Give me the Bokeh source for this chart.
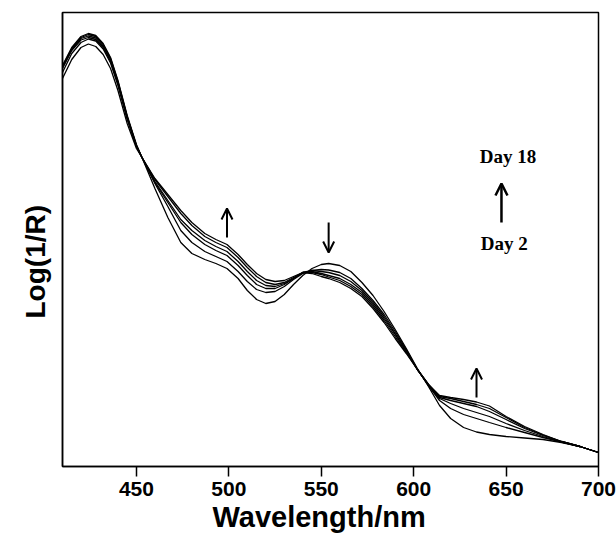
from bokeh.plotting import figure
from bokeh.models import Range1d, FixedTicker, Label, Arrow, OpenHead, Title
from bokeh.embed import file_html
from bokeh.resources import INLINE

wavelength = [410, 415, 420, 424, 428, 432, 436, 440, 445, 450, 453, 460, 467, 474, 480, 487, 493, 499,
              505, 510, 515, 520, 525, 530, 535, 540, 545, 550, 554, 560, 566, 572, 578, 584, 590, 596,
              602, 608, 614, 620, 627, 634, 641, 650, 660, 670, 680, 690, 700]

day_a = [401, 419, 430, 433, 431, 423, 409, 386, 351, 322, 309, 278, 249, 224, 213, 207, 203, 198,
         188, 176, 167, 163, 165, 172, 182, 191, 198, 202, 203, 201, 195, 184, 171, 155, 137, 118,
         98, 80, 61, 48, 39, 34.5, 32, 30, 28.5, 27, 24, 20, 14]
day_b = [400, 418, 429, 432, 430, 422, 408, 385, 350, 321, 309, 283, 260, 236, 224, 215, 210, 205,
         195, 185, 177, 174, 175, 180, 187, 193, 196, 197, 196.5, 194, 188, 178, 166, 152, 135, 117,
         97, 81, 66, 58, 52, 48, 44, 39, 34, 29, 24.5, 20, 14]
day_c = [399, 417, 428, 430.5, 428.5, 420.5, 406.5, 384, 349, 321, 309, 284, 264, 244, 232, 222, 216, 211,
         201, 191, 182, 178, 178, 182, 188, 194, 196, 195, 194, 191, 185, 176, 164, 150, 133, 116,
         97, 81, 68, 63, 58, 54, 50, 43, 36, 30, 24.5, 20, 14]
day_d = [398, 416, 426.5, 429, 427, 419, 405, 383, 349, 320, 309, 285, 266, 247, 236, 226, 220, 215,
         205, 195, 186, 181, 180, 183, 188, 194, 195, 193, 191, 188, 182, 174, 162, 148, 132, 115,
         97, 82, 69, 66, 63, 60, 55, 47, 38, 31, 25, 20, 14]
day_e = [394, 413, 424, 427.5, 425.5, 417.5, 403.5, 381, 347, 320, 309, 287, 270, 253, 241, 230, 224, 219,
         209, 199, 190, 184, 182, 184, 189, 194, 194, 192, 189.5, 186, 180, 172, 160, 146, 130, 114,
         97, 82, 70, 68, 65, 62, 58, 49, 39, 31.5, 25, 20, 14]
day_f = [388, 407, 419, 422.5, 420, 412, 398, 376, 343, 318, 309, 288, 272, 256, 244, 233, 227, 222,
         212, 202, 193, 187, 185, 186, 190, 194, 193, 190, 188, 184, 178, 170, 158, 144, 128, 113,
         97, 82, 71, 69, 67, 64.5, 60.5, 50, 40, 32, 25, 20, 14]
spectra = [day_a, day_b, day_c, day_d, day_e, day_f]

x_ticks = [450, 500, 550, 600, 650, 700]

# change arrows: (x, y_start, y_end)
change_arrows = [(499, 229, 258), (554, 244, 214), (634, 69, 98)]
key_arrow = (647.5, 244, 283)
key_labels = [("Day 18", 651, 310), ("Day 2", 649, 223)]

p = figure(width=616, height=539, output_backend="svg", toolbar_location=None,
           x_range=Range1d(410, 700), y_range=Range1d(0, 454),
           min_border_left=62, min_border_right=18, min_border_top=12, min_border_bottom=73)
p.background_fill_color = "white"
p.border_fill_color = "white"
p.xgrid.visible = False
p.ygrid.visible = False
p.outline_line_color = "black"
p.outline_line_width = 1.5
p.outline_line_alpha = 1.0

for s in spectra:
    p.line(wavelength, s, line_color="black", line_width=1.3)

for (x, y0, y1) in change_arrows:
    p.add_layout(Arrow(end=OpenHead(size=11, line_width=2, line_color="black"),
                       x_start=x, y_start=y0, x_end=x, y_end=y1,
                       line_width=2, line_color="black"))
kx, ky0, ky1 = key_arrow
p.add_layout(Arrow(end=OpenHead(size=12, line_width=2.5, line_color="black"),
                   x_start=kx, y_start=ky0, x_end=kx, y_end=ky1,
                   line_width=2.5, line_color="black"))
for (t, x, y) in key_labels:
    p.add_layout(Label(x=x, y=y, text=t, text_font="Liberation Serif", text_font_style="bold",
                       text_font_size="19px", text_color="black",
                       text_align="center", text_baseline="middle"))

xa = p.xaxis[0]
xa.ticker = FixedTicker(ticks=x_ticks)
xa.minor_tick_line_color = None
xa.major_tick_in = 0
xa.major_tick_out = 10
xa.major_tick_line_width = 1.5
xa.major_tick_line_color = "black"
xa.axis_line_color = "black"
xa.axis_line_width = 1.5
xa.major_label_text_font = "Liberation Sans"
xa.major_label_text_font_style = "bold"
xa.major_label_text_font_size = "21px"
xa.major_label_text_color = "black"
xa.major_label_standoff = 5

ya = p.yaxis[0]
ya.ticker = FixedTicker(ticks=[])
ya.minor_tick_line_color = None
ya.major_tick_line_color = None
ya.major_tick_out = 0
ya.major_tick_in = 0
ya.major_label_standoff = 0
ya.axis_line_color = "black"
ya.axis_line_width = 1.5

# axis titles as side-panel titles so they can be offset like the original
p.add_layout(Title(text="Wavelength/nm", align="left", offset=150, standoff=0,
                   text_font="Liberation Sans", text_font_style="bold",
                   text_font_size="29px", text_color="black"), "below")
p.add_layout(Title(text="Log(1/R)", align="left", offset=148, standoff=22,
                   vertical_align="middle",
                   text_font="Liberation Sans", text_font_style="bold",
                   text_font_size="28px", text_color="black"), "left")

open("out.html", "w").write(file_html(p, INLINE))
